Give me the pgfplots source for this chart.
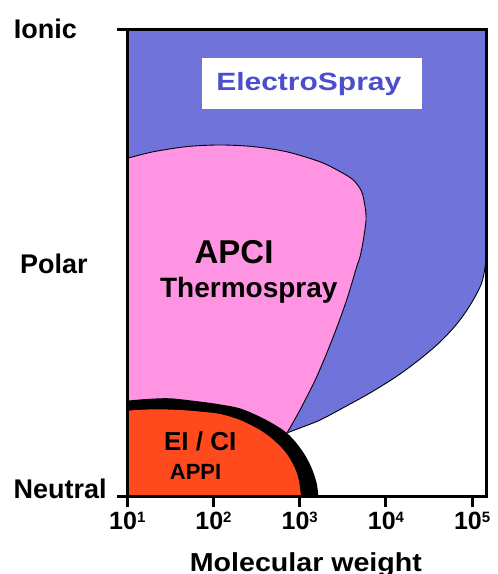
\documentclass[border=0pt]{standalone}
\usepackage{fontspec}
\setmainfont{Liberation Sans}
\newfontfamily\wideA{Liberation Sans}[FakeStretch=1.2]
\newfontfamily\wideB{Liberation Sans}[FakeStretch=1.1]
\usepackage{pgfplots}
\pgfplotsset{compat=1.18}
\definecolor{esblue}{HTML}{7073DA}
\definecolor{apink}{HTML}{FF94E2}
\definecolor{eired}{HTML}{FF4A1E}
\definecolor{estext}{HTML}{4C4ECC}
\newcommand{\tl}[1]{10\raisebox{6.8pt}{\fontsize{15}{15}\selectfont #1}}
\begin{document}
\begin{tikzpicture}
\begin{axis}[
  scale only axis, width=359.4pt, height=467.4pt,
  xmin=1, xmax=5.169, ymin=0, ymax=2,
  axis on top,
  clip mode=individual,
  axis line style={line width=3pt},
  xtick={1,2,3,4,5}, xticklabels={\tl{1},\tl{2},\tl{3},\tl{4},\tl{5}},
  ytick={0,2}, yticklabels={},
  xtick pos=bottom, ytick pos=left,
  tick align=outside, major tick length=10pt,
  tick style={line width=3pt, black},
  xticklabel style={font=\bfseries\fontsize{25}{25}\selectfont, yshift=-2pt},
]
% ElectroSpray (upper part)
\addplot[fill=esblue, draw=none] coordinates {(1,2) (5.169,2) (5.169,0.99) (1,0.99)};
% ElectroSpray (curved lower part)
\addplot[fill=esblue, draw=none, smooth] coordinates {(5.164,1.10) (5.161,1.034) (5.150,0.983) (5.115,0.919) (5.045,0.863) (4.941,0.799) (4.813,0.735) (4.628,0.662) (4.396,0.589) (4.129,0.516) (3.816,0.444) (3.502,0.380) (3.236,0.328) (3.003,0.294) (2.853,0.273) (2.84,0.26) (2.70,0.36) (2.9,0.6) (3.3,1.02)};
\addplot[black, line width=0.9pt, smooth] coordinates {(5.164,1.10) (5.161,1.034) (5.150,0.983) (5.115,0.919) (5.045,0.863) (4.941,0.799) (4.813,0.735) (4.628,0.662) (4.396,0.589) (4.129,0.516) (3.816,0.444) (3.502,0.380) (3.236,0.328) (3.003,0.294) (2.853,0.273)};
% APCI / Thermospray
\addplot[fill=apink, draw=none, smooth] coordinates {(1,1.448) (1.302,1.476) (1.689,1.498) (2.075,1.505) (2.462,1.498) (2.849,1.476) (3.236,1.433) (3.468,1.391) (3.622,1.355) (3.719,1.305) (3.758,1.241) (3.769,1.184) (3.738,1.098) (3.700,1.027) (3.661,0.984) (3.545,0.842) (3.390,0.685) (3.197,0.513) (3.003,0.371) (2.853,0.273) (2.85,0.25) (2.5,0.33) (1.5,0.40) (1,0.39)};
\addplot[black, line width=0.9pt, smooth] coordinates {(1,1.448) (1.302,1.476) (1.689,1.498) (2.075,1.505) (2.462,1.498) (2.849,1.476) (3.236,1.433) (3.468,1.391) (3.622,1.355) (3.719,1.305) (3.758,1.241) (3.769,1.184) (3.738,1.098) (3.700,1.027) (3.661,0.984) (3.545,0.842) (3.390,0.685) (3.197,0.513) (3.003,0.371) (2.853,0.273)};
% EI / CI black border
\addplot[fill=black, draw=none, smooth] coordinates {(1,0.411) (1.225,0.418) (1.495,0.421) (1.843,0.407) (2.075,0.395) (2.307,0.378) (2.539,0.342) (2.733,0.303) (2.856,0.271) (2.965,0.228) (3.061,0.178) (3.139,0.122) (3.197,0.057) (3.216,0) (3.22,-0.05) (1,-0.05)};
% EI / CI red
\addplot[fill=eired, draw=none, smooth] coordinates {(1,0.368) (1.302,0.374) (1.611,0.371) (1.843,0.364) (2.075,0.354) (2.307,0.328) (2.539,0.285) (2.694,0.243) (2.829,0.193) (2.926,0.136) (2.984,0.079) (3.015,0) (3.02,-0.05) (1,-0.05)};
% texts
\node[fill=white, minimum width=220pt, minimum height=51pt, inner sep=0pt] at (axis description cs:0.514,0.884) {};
\node[anchor=base, text=estext, inner sep=0pt, font=\wideA\bfseries\fontsize{25}{25}\selectfont] at (axis description cs:0.505,0.869) {ElectroSpray};
\node[anchor=base, inner sep=0pt, font=\bfseries\fontsize{33}{33}\selectfont] at (axis description cs:0.297,0.498) {APCI};
\node[anchor=base, inner sep=0pt, font=\bfseries\fontsize{28}{28}\selectfont] at (axis description cs:0.338,0.427) {Thermospray};
\node[anchor=base, inner sep=0pt, font=\bfseries\fontsize{26}{26}\selectfont] at (axis description cs:0.203,0.098) {EI / CI};
\node[anchor=base, inner sep=0pt, font=\bfseries\fontsize{22}{22}\selectfont] at (axis description cs:0.190,0.036) {APPI};
\node[anchor=base, inner sep=0pt, font=\bfseries\fontsize{27}{27}\selectfont] at (axis description cs:-0.228,0.981) {Ionic};
\node[anchor=base, inner sep=0pt, font=\bfseries\fontsize{27}{27}\selectfont] at (axis description cs:-0.204,0.477) {Polar};
\node[anchor=base, inner sep=0pt, font=\bfseries\fontsize{27}{27}\selectfont] at (axis description cs:-0.187,-0.003) {Neutral};
\node[anchor=base, inner sep=0pt, font=\wideB\bfseries\fontsize{26}{26}\selectfont] at (axis description cs:0.497,-0.159) {Molecular weight};
\end{axis}
\pgfresetboundingbox
\path (current axis.south west) +(-127.3pt,-77.3pt) (current axis.north east) +(10.3pt,29.3pt);
\end{tikzpicture}
\end{document}
